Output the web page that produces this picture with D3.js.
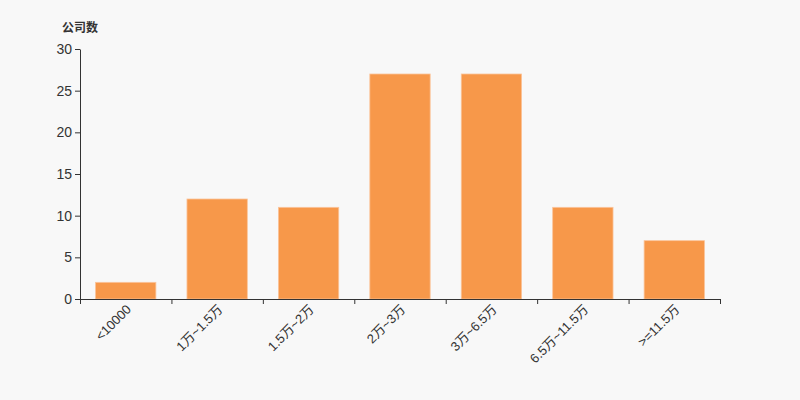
<!DOCTYPE html>
<html><head><meta charset="utf-8">
<script src="https://cdn.jsdelivr.net/npm/d3@7/dist/d3.min.js"></script>
<style>body{margin:0;background:#f8f8f8;}svg{display:block;}</style>
</head><body>
<svg id="c" width="800" height="400"></svg>
<script>
const categories = ["<10000","1万~1.5万","1.5万~2万","2万~3万","3万~6.5万","6.5万~11.5万",">=11.5万"];
const values = [2,12,11,27,27,11,7];
const yTicks = [0,5,10,15,20,25,30];
const yTitle = "公司数";

(function(){
const svg = d3.select("#c");
svg.append("rect").attr("width",800).attr("height",400).attr("fill","#f8f8f8");
const mLeft=80,mRight=720,mTop=49,mBottom=299;
const x = d3.scaleBand().domain(categories).range([mLeft,mRight]).paddingInner(0.34).paddingOuter(0.17);
const y = d3.scaleLinear().domain([0,30]).range([mBottom,mTop]);
const font = "'Liberation Sans', Arial, 'Noto Sans CJK SC', sans-serif";

svg.append("g").selectAll("rect").data(values).join("rect")
  .attr("x",(d,i)=>x(categories[i]))
  .attr("y",d=>y(d))
  .attr("width",x.bandwidth())
  .attr("height",d=>y(0)-y(d))
  .attr("fill","#f7984a")
  .attr("stroke","#fbc49a").attr("stroke-width",0.8);

const yAxis = svg.append("g").attr("transform",`translate(${mLeft},0)`)
  .call(d3.axisLeft(y).tickValues(yTicks).tickSize(5).tickSizeOuter(0));
yAxis.select(".domain").attr("stroke","#333");
yAxis.selectAll(".tick line").attr("stroke","#333");
yAxis.selectAll("text").attr("fill","#333").style("font-size","14px").style("font-family",font).attr("x",-8);

const xb = d3.scaleLinear().domain([0,categories.length]).range([mLeft,mRight]);
const xAxis = svg.append("g").attr("transform",`translate(0,${mBottom})`)
  .call(d3.axisBottom(xb).tickValues(d3.range(categories.length+1)).tickSize(5).tickSizeOuter(0).tickFormat(""));
xAxis.select(".domain").attr("stroke","#333");
xAxis.selectAll(".tick line").attr("stroke","#333");

svg.append("g").selectAll("text").data(categories).join("text")
  .attr("transform",d=>`translate(${x(d)+x.bandwidth()/2+3},${mBottom+8}) rotate(-45)`)
  .attr("text-anchor","end").attr("dy","0.35em")
  .attr("fill","#333").style("font-size","13px").style("font-family",font)
  .text(d=>d);

svg.append("text").attr("x",62).attr("y",32).text(yTitle)
  .attr("fill","#333").style("font-size","12px").style("font-weight","bold").style("font-family",font);
})();
</script>
</body></html>
